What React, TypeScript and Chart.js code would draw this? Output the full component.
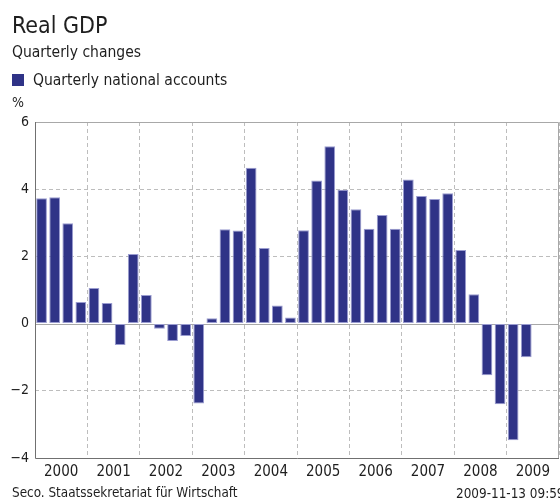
import React, { useEffect, useRef } from "react";
import { Chart, registerables } from "chart.js";

Chart.register(...registerables);

const TITLE = "Real GDP";
const SUBTITLE = "Quarterly changes";
const UNIT = "%";
const SERIES_LABEL = "Quarterly national accounts";
const SOURCE = "Seco. Staatssekretariat für Wirtschaft";
const STAMP = "2009-11-13 09:59";

const years = ["2000", "2001", "2002", "2003", "2004", "2005", "2006", "2007", "2008", "2009"];
const quarters = years.flatMap((y) => ["Q1", "Q2", "Q3", "Q4"].map((q) => `${y} ${q}`));

const gdpChange: (number | null)[] = [
  3.73, 3.76, 2.99, 0.64,
  1.06, 0.61, -0.64, 2.07,
  0.85, -0.15, -0.52, -0.37,
  -2.38, 0.16, 2.81, 2.77,
  4.64, 2.25, 0.54, 0.18,
  2.78, 4.26, 5.28, 3.98,
  3.4, 2.82, 3.23, 2.82,
  4.29, 3.8, 3.71, 3.88,
  2.19, 0.87, -1.54, -2.4,
  -3.47, -1.0, null, null,
];

const yTicks = [-4, -2, 0, 2, 4, 6];

const FONT = "'DejaVu Sans Condensed', 'DejaVu Sans', sans-serif";
const BAR_FILL = "#2f3387";
const BAR_EDGE = "#9a9cd0";
const TEXT = "#1e1e1e";

const decorPlugin = {
  id: "decor",
  beforeDatasetsDraw(chart: any) {
    const { ctx, chartArea } = chart;
    const y = chart.scales.y;
    const { left, right, top, bottom } = chartArea;
    ctx.save();
    const z = Math.round(y.getPixelForValue(0)) + 0.5;
    ctx.strokeStyle = "#a8a8a8";
    ctx.lineWidth = 1;
    ctx.beginPath();
    ctx.moveTo(left, z);
    ctx.lineTo(right, z);
    ctx.stroke();
    ctx.strokeStyle = "#a8a8a8";
    ctx.beginPath();
    ctx.moveTo(left, Math.round(top) + 0.5);
    ctx.lineTo(Math.round(right) - 0.5, Math.round(top) + 0.5);
    ctx.lineTo(Math.round(right) - 0.5, bottom);
    ctx.stroke();
    ctx.strokeStyle = "#707070";
    ctx.beginPath();
    ctx.moveTo(Math.round(left) + 0.5, top);
    ctx.lineTo(Math.round(left) + 0.5, Math.round(bottom) + 0.5);
    ctx.lineTo(right, Math.round(bottom) + 0.5);
    ctx.stroke();
    ctx.restore();
  },
  afterDraw(chart: any) {
    const { ctx } = chart;
    ctx.save();
    ctx.fillStyle = TEXT;
    ctx.textBaseline = "alphabetic";
    ctx.textAlign = "left";
    ctx.font = `23px ${FONT}`;
    ctx.fillText(TITLE, 12, 33);
    ctx.font = `15.5px ${FONT}`;
    ctx.fillText(SUBTITLE, 12, 57);
    ctx.fillStyle = BAR_FILL;
    ctx.fillRect(12, 74, 12, 12);
    ctx.fillStyle = TEXT;
    ctx.fillText(chart.data.datasets[0].label, 33, 85);
    ctx.font = `14px ${FONT}`;
    ctx.fillText(UNIT, 12, 107);
    ctx.font = `13.4px ${FONT}`;
    ctx.fillText(SOURCE, 12, 497);
    ctx.fillText(STAMP, 456, 498);
    ctx.restore();
  },
};

export default function App() {
  const ref = useRef<HTMLCanvasElement | null>(null);
  useEffect(() => {
    if (!ref.current) return;
    const chart = new Chart(ref.current, {
      type: "bar",
      data: {
        labels: quarters,
        datasets: [
          {
            label: SERIES_LABEL,
            data: gdpChange,
            backgroundColor: BAR_FILL,
            borderColor: BAR_EDGE,
            borderWidth: 1,
            borderSkipped: false,
            categoryPercentage: 1,
            barPercentage: 0.82,
            xAxisID: "x",
          },
        ],
      },
      options: {
        responsive: false,
        animation: false,
        devicePixelRatio: 1,
        layout: { padding: { top: 122, left: 0, right: 1, bottom: 0 } },
        plugins: { legend: { display: false }, tooltip: { enabled: false }, title: { display: false } },
        scales: {
          x: {
            type: "category",
            display: false,
            offset: true,
          },
          x2: {
            type: "category",
            labels: years,
            position: "bottom",
            offset: true,
            grid: {
              offset: true,
              drawTicks: false,
              color: "#bdbdbd",
              lineWidth: 1,
            },
            border: { display: false, dash: [4, 3] },
            ticks: {
              color: TEXT,
              font: { family: FONT, size: 15 },
              padding: 5,
              maxRotation: 0,
              autoSkip: false,
            },
            afterFit(scale: any) {
              scale.height = 43;
            },
          },
          y: {
            type: "linear",
            min: -4,
            max: 6,
            afterBuildTicks(scale: any) {
              scale.ticks = yTicks.map((v) => ({ value: v }));
            },
            grid: {
              drawTicks: false,
              color: (c: any) =>
                c.tick && (c.tick.value === 0 || c.tick.value === 6 || c.tick.value === -4)
                  ? "rgba(0,0,0,0)"
                  : "#bdbdbd",
            },
            border: { display: false, dash: [4, 3] },
            ticks: {
              color: TEXT,
              font: { family: FONT, size: 14 },
              padding: 6,
              callback: (v: any) => (Number(v) < 0 ? "\u2212" + Math.abs(Number(v)) : String(v)),
            },
            afterFit(scale: any) {
              scale.width = 35;
            },
          },
        },
      } as any,
      plugins: [decorPlugin],
    });
    return () => chart.destroy();
  }, []);
  return (
    <div style={{ position: "absolute", left: 0, top: 0, width: 560, height: 501, background: "#fff" }}>
      <canvas ref={ref} width={560} height={501} style={{ width: 560, height: 501, display: "block" }} />
    </div>
  );
}
